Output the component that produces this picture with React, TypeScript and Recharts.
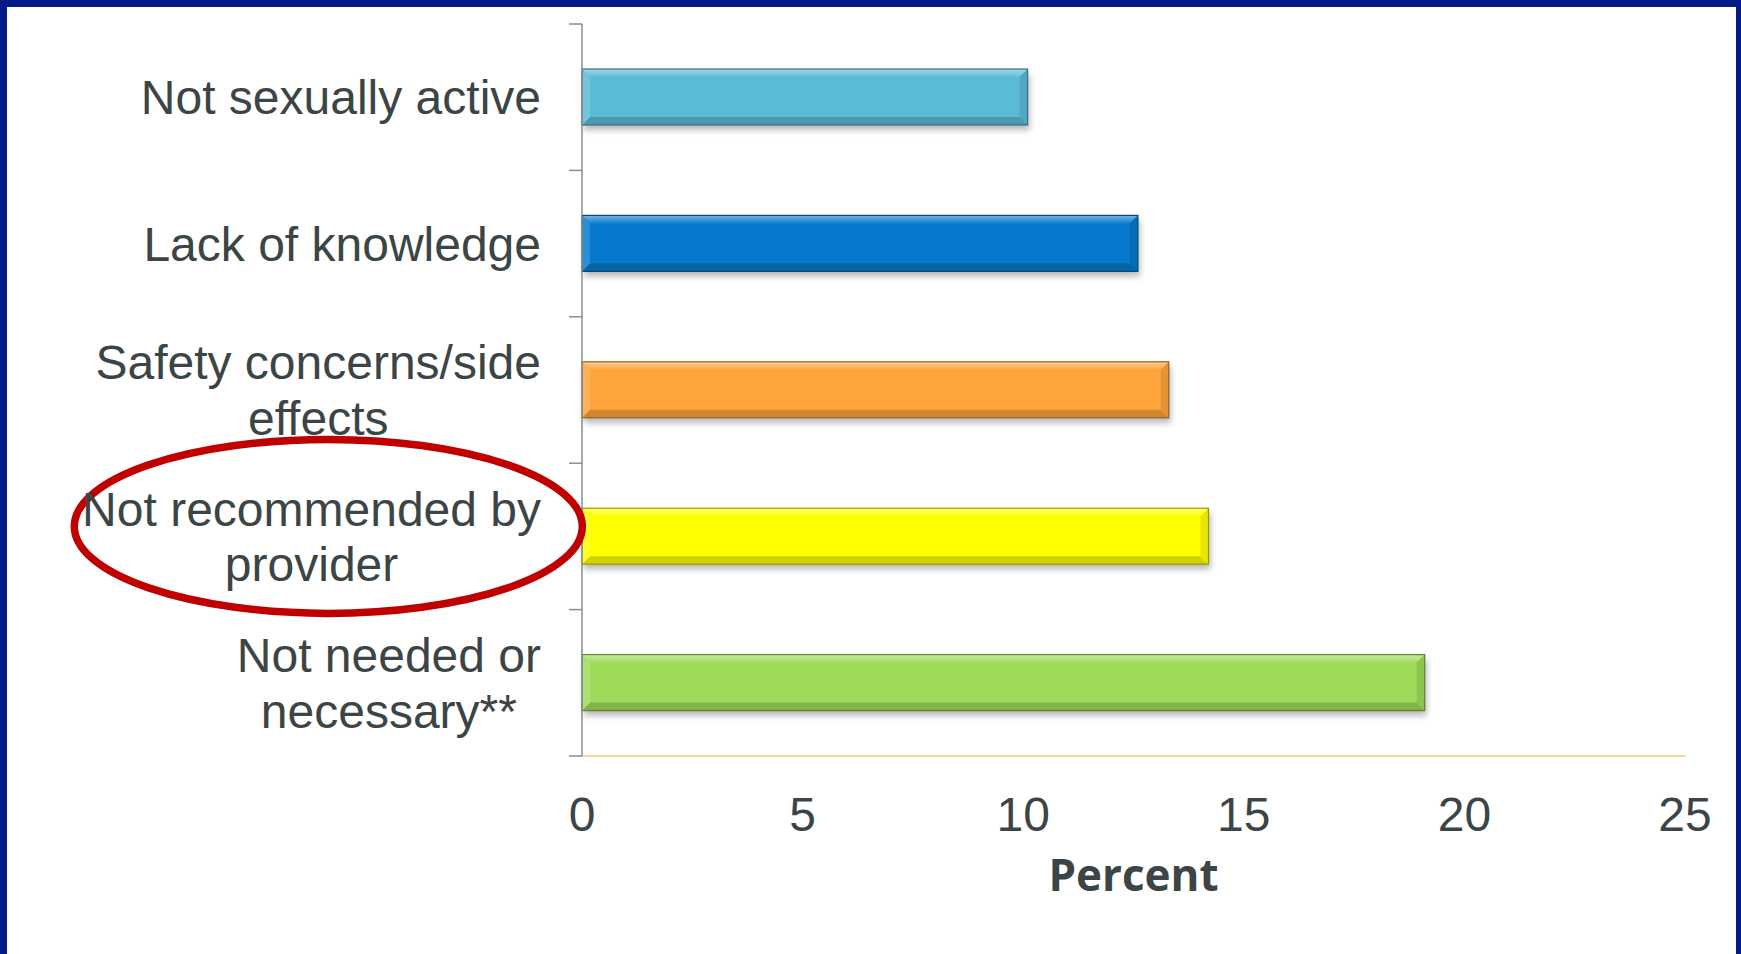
import React from "react";
import { BarChart, Bar, XAxis, YAxis, ReferenceDot, Label } from "recharts";

const categories = [
  "Not sexually active",
  "Lack of knowledge",
  "Safety concerns/side effects",
  "Not recommended by provider",
  "Not needed or necessary**",
];
const labelLines = [
  ["Not sexually active"],
  ["Lack of knowledge"],
  ["Safety concerns/side", "effects"],
  ["Not recommended by", "provider"],
  ["Not needed or", "necessary**"],
];
const percentValues = [10.1, 12.6, 13.3, 14.2, 19.1];
const barColors = ["#5bbad5", "#0679cc", "#ffa33b", "#ffff00", "#9ddb59"];
const xTicks = [0, 5, 10, 15, 20, 25];
const axisTitle = "Percent";
const highlightCategory = "Not recommended by provider";
const highlightX = -5.75;

const data = categories.map((name, i) => ({
  name,
  value: percentValues[i],
  color: barColors[i],
  lines: labelLines[i],
}));

const TEXT = "#3c4545";
const FONT = "'Liberation Sans', Arial, sans-serif";
const FS = 48;

let ctx: CanvasRenderingContext2D | null = null;
function measure(t: string) {
  if (!ctx) {
    const c = document.createElement("canvas");
    ctx = c.getContext("2d");
  }
  if (!ctx) return t.length * FS * 0.5;
  ctx.font = `${FS}px 'Liberation Sans', Arial, sans-serif`;
  return ctx.measureText(t).width;
}

function shade(hex: string, f: number) {
  const n = parseInt(hex.slice(1), 16);
  let r = (n >> 16) & 255, g = (n >> 8) & 255, b = n & 255;
  if (f < 0) {
    r = Math.round(r * (1 + f)); g = Math.round(g * (1 + f)); b = Math.round(b * (1 + f));
  } else {
    r = Math.round(r + (255 - r) * f); g = Math.round(g + (255 - g) * f); b = Math.round(b + (255 - b) * f);
  }
  return `rgb(${r},${g},${b})`;
}

function BevelBar(props: any) {
  const { x, y, width, height, payload, index } = props;
  if (!width || !height) return null;
  const c = payload.color;
  const b = 8;
  const id = `bshadow${index}`;
  const gid = `bgrad${index}`;
  return (
    <g>
      <defs>
        <filter id={id} x="-5%" y="-40%" width="110%" height="200%">
          <feGaussianBlur stdDeviation="3" />
        </filter>
        <linearGradient id={gid} x1="0" y1="0" x2="0" y2="1">
          <stop offset="0" stopColor={shade(c, 0.45)} />
          <stop offset="1" stopColor={shade(c, 0.05)} />
        </linearGradient>
      </defs>
      <rect x={x + 2} y={y + 5} width={width} height={height} fill="#000" opacity={0.28} filter={`url(#${id})`} />
      <rect x={x} y={y} width={width} height={height} fill={c} />
      <polygon points={`${x},${y} ${x + width},${y} ${x + width - b},${y + b} ${x + b},${y + b}`} fill={`url(#${gid})`} />
      <polygon points={`${x},${y + height} ${x + width},${y + height} ${x + width - b},${y + height - b} ${x + b},${y + height - b}`} fill={shade(c, -0.18)} />
      <polygon points={`${x + width},${y} ${x + width},${y + height} ${x + width - b},${y + height - b} ${x + width - b},${y + b}`} fill={shade(c, -0.1)} />
      <polygon points={`${x},${y} ${x},${y + height} ${x + b},${y + height - b} ${x + b},${y + b}`} fill={shade(c, 0.15)} />
      <rect x={x} y={y} width={width} height={height} fill="none" stroke={shade(c, -0.4)} strokeWidth={1.2} />
    </g>
  );
}

function CatTick(props: any) {
  const { x, y, payload, index } = props;
  const item = data[index] || data.find((d) => d.name === payload.value);
  const lines: string[] = item ? item.lines : [String(payload.value)];
  const half = payload.offset ?? 73;
  const maxW = Math.max(...lines.map(measure));
  const right = x - 41;
  const cx = right - maxW / 2;
  const lh = 55.5;
  const n = lines.length;
  return (
    <g>
      <line x1={x - 13} x2={x} y1={y - half} y2={y - half} stroke="#868f91" strokeWidth={1.5} />
      {index === data.length - 1 && (
        <line x1={x - 13} x2={x} y1={y + half} y2={y + half} stroke="#868f91" strokeWidth={1.5} />
      )}
      {lines.map((t, i) => (
        <text
          key={i}
          x={cx}
          y={y + (i - (n - 1) / 2) * lh + FS * 0.355}
          textAnchor="middle"
          fontSize={FS}
          fontFamily={FONT}
          fill={TEXT}
        >
          {t}
        </text>
      ))}
    </g>
  );
}

function HighlightEllipse(props: any) {
  const { cx, cy } = props;
  if (cx == null || cy == null) return null;
  return <ellipse cx={cx} cy={cy - 10} rx={254} ry={87} fill="none" stroke="#c00000" strokeWidth={7.5} />;
}

export default function App() {
  return (
    <div style={{ position: "absolute", left: 0, top: 0, width: 1741, height: 954, background: "#041c8a" }}>
      <div style={{ position: "absolute", left: 7, top: 7, width: 1729, height: 947, background: "#ffffff" }} />
      <div style={{ position: "absolute", left: 0, top: 0 }}>
        <BarChart
          width={1741}
          height={954}
          data={data}
          layout="vertical"
          margin={{ top: 24, right: 56, bottom: 48, left: 0 }}
          barSize={56}
        >
          <XAxis
            type="number"
            domain={[0, 25]}
            ticks={xTicks}
            interval={0}
            height={150}
            tickLine={false}
            tickSize={0}
            tickMargin={41}
            axisLine={{ stroke: "#fcd48a", strokeWidth: 2 }}
            tick={{ fontSize: FS, fill: TEXT, fontFamily: FONT }}
          >
            <Label
              value={axisTitle}
              position="insideBottom"
              offset={15}
              fill={TEXT}
              fontSize={44}
              fontWeight={700}
              fontFamily="'Open Sans', sans-serif"
            />
          </XAxis>
          <YAxis
            type="category"
            dataKey="name"
            width={582}
            tickLine={false}
            tickSize={0}
            tickMargin={0}
            interval={0}
            axisLine={{ stroke: "#868f91", strokeWidth: 1.5 }}
            tick={CatTick}
          />
          <Bar dataKey="value" isAnimationActive={false} shape={BevelBar} />
          <ReferenceDot
            x={highlightX}
            y={highlightCategory}
            ifOverflow="visible"
            shape={HighlightEllipse}
          />
        </BarChart>
      </div>
    </div>
  );
}
